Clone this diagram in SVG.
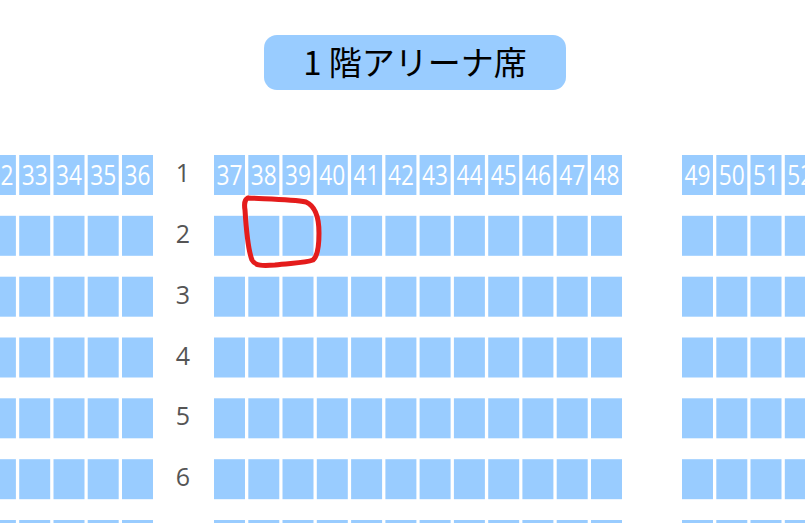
<svg xmlns="http://www.w3.org/2000/svg" xmlns:xlink="http://www.w3.org/1999/xlink" width="805" height="523" viewBox="0 0 805 523">
<style>
.seat{fill:#99ccff}
.num{fill:#ffffff;font-family:"Open Sans","Noto Sans",sans-serif;font-size:28px;text-anchor:middle}
.rowlbl{fill:#555555;font-family:"Open Sans","Noto Sans",sans-serif;font-size:25px;text-anchor:middle}
.title{fill:#000000;font-family:"Noto Sans CJK JP","Noto Sans",sans-serif;font-size:33px;text-anchor:middle}
.mark{fill:none;stroke:#e41c1c;stroke-width:5;stroke-linecap:round;stroke-linejoin:round}
</style>
<defs>
<rect id="s" class="seat" width="31" height="40"/>
<g id="seatrow">
<use xlink:href="#s" x="-15.1" y="0"/><use xlink:href="#s" x="19.2" y="0"/><use xlink:href="#s" x="53.5" y="0"/><use xlink:href="#s" x="87.7" y="0"/><use xlink:href="#s" x="122" y="0"/>
<use xlink:href="#s" x="214" y="0"/><use xlink:href="#s" x="248.3" y="0"/><use xlink:href="#s" x="282.5" y="0"/><use xlink:href="#s" x="316.8" y="0"/><use xlink:href="#s" x="351.1" y="0"/><use xlink:href="#s" x="385.4" y="0"/><use xlink:href="#s" x="419.6" y="0"/><use xlink:href="#s" x="453.9" y="0"/><use xlink:href="#s" x="488.2" y="0"/><use xlink:href="#s" x="522.4" y="0"/><use xlink:href="#s" x="556.7" y="0"/><use xlink:href="#s" x="591" y="0"/>
<use xlink:href="#s" x="682" y="0"/><use xlink:href="#s" x="716.3" y="0"/><use xlink:href="#s" x="750.5" y="0"/><use xlink:href="#s" x="784.8" y="0"/>
</g>
</defs>
<rect width="805" height="523" fill="#ffffff"/>
<g id="title">
<rect x="264" y="35" width="302" height="55" rx="13" fill="#99ccff"/>
<text class="title" x="415" y="75">1 階アリーナ席</text>
</g>
<g id="row1">
<text class="rowlbl" x="183" y="182">1</text>
<g id="s1-32"><use xlink:href="#s" x="-15.1" y="155"/><text class="num" x="0.4" y="185" textLength="26" lengthAdjust="spacingAndGlyphs">32</text></g>
<g id="s1-33"><use xlink:href="#s" x="19.2" y="155"/><text class="num" x="34.7" y="185" textLength="26" lengthAdjust="spacingAndGlyphs">33</text></g>
<g id="s1-34"><use xlink:href="#s" x="53.5" y="155"/><text class="num" x="69" y="185" textLength="26" lengthAdjust="spacingAndGlyphs">34</text></g>
<g id="s1-35"><use xlink:href="#s" x="87.7" y="155"/><text class="num" x="103.2" y="185" textLength="26" lengthAdjust="spacingAndGlyphs">35</text></g>
<g id="s1-36"><use xlink:href="#s" x="122" y="155"/><text class="num" x="137.5" y="185" textLength="26" lengthAdjust="spacingAndGlyphs">36</text></g>
<g id="s1-37"><use xlink:href="#s" x="214" y="155"/><text class="num" x="229.5" y="185" textLength="26" lengthAdjust="spacingAndGlyphs">37</text></g>
<g id="s1-38"><use xlink:href="#s" x="248.3" y="155"/><text class="num" x="263.8" y="185" textLength="26" lengthAdjust="spacingAndGlyphs">38</text></g>
<g id="s1-39"><use xlink:href="#s" x="282.5" y="155"/><text class="num" x="298" y="185" textLength="26" lengthAdjust="spacingAndGlyphs">39</text></g>
<g id="s1-40"><use xlink:href="#s" x="316.8" y="155"/><text class="num" x="332.3" y="185" textLength="26" lengthAdjust="spacingAndGlyphs">40</text></g>
<g id="s1-41"><use xlink:href="#s" x="351.1" y="155"/><text class="num" x="366.6" y="185" textLength="26" lengthAdjust="spacingAndGlyphs">41</text></g>
<g id="s1-42"><use xlink:href="#s" x="385.4" y="155"/><text class="num" x="400.9" y="185" textLength="26" lengthAdjust="spacingAndGlyphs">42</text></g>
<g id="s1-43"><use xlink:href="#s" x="419.6" y="155"/><text class="num" x="435.1" y="185" textLength="26" lengthAdjust="spacingAndGlyphs">43</text></g>
<g id="s1-44"><use xlink:href="#s" x="453.9" y="155"/><text class="num" x="469.4" y="185" textLength="26" lengthAdjust="spacingAndGlyphs">44</text></g>
<g id="s1-45"><use xlink:href="#s" x="488.2" y="155"/><text class="num" x="503.7" y="185" textLength="26" lengthAdjust="spacingAndGlyphs">45</text></g>
<g id="s1-46"><use xlink:href="#s" x="522.4" y="155"/><text class="num" x="537.9" y="185" textLength="26" lengthAdjust="spacingAndGlyphs">46</text></g>
<g id="s1-47"><use xlink:href="#s" x="556.7" y="155"/><text class="num" x="572.2" y="185" textLength="26" lengthAdjust="spacingAndGlyphs">47</text></g>
<g id="s1-48"><use xlink:href="#s" x="591" y="155"/><text class="num" x="606.5" y="185" textLength="26" lengthAdjust="spacingAndGlyphs">48</text></g>
<g id="s1-49"><use xlink:href="#s" x="682" y="155"/><text class="num" x="697.5" y="185" textLength="26" lengthAdjust="spacingAndGlyphs">49</text></g>
<g id="s1-50"><use xlink:href="#s" x="716.3" y="155"/><text class="num" x="731.8" y="185" textLength="26" lengthAdjust="spacingAndGlyphs">50</text></g>
<g id="s1-51"><use xlink:href="#s" x="750.5" y="155"/><text class="num" x="766" y="185" textLength="26" lengthAdjust="spacingAndGlyphs">51</text></g>
<g id="s1-52"><use xlink:href="#s" x="784.8" y="155"/><text class="num" x="800.3" y="185" textLength="26" lengthAdjust="spacingAndGlyphs">52</text></g>
</g>
<g id="row2"><text class="rowlbl" x="183" y="242.8">2</text><use xlink:href="#seatrow" y="215.8"/></g>
<g id="row3"><text class="rowlbl" x="183" y="303.7">3</text><use xlink:href="#seatrow" y="276.7"/></g>
<g id="row4"><text class="rowlbl" x="183" y="364.5">4</text><use xlink:href="#seatrow" y="337.5"/></g>
<g id="row5"><text class="rowlbl" x="183" y="425.3">5</text><use xlink:href="#seatrow" y="398.3"/></g>
<g id="row6"><text class="rowlbl" x="183" y="486.2">6</text><use xlink:href="#seatrow" y="459.2"/></g>
<g id="row7"><use xlink:href="#seatrow" y="520"/></g>
<g id="connectors">
<path class="mark" d="M248,198 C268,199 293,199 306,202 C315,206 319,217 319,233 C319,246 318,256 313,260 C305,263 290,263 275,265 C263,266 255,266 252,260 C248,250 246,226 245,210 C244,204 245,199 248,198"/>
</g>
</svg>
